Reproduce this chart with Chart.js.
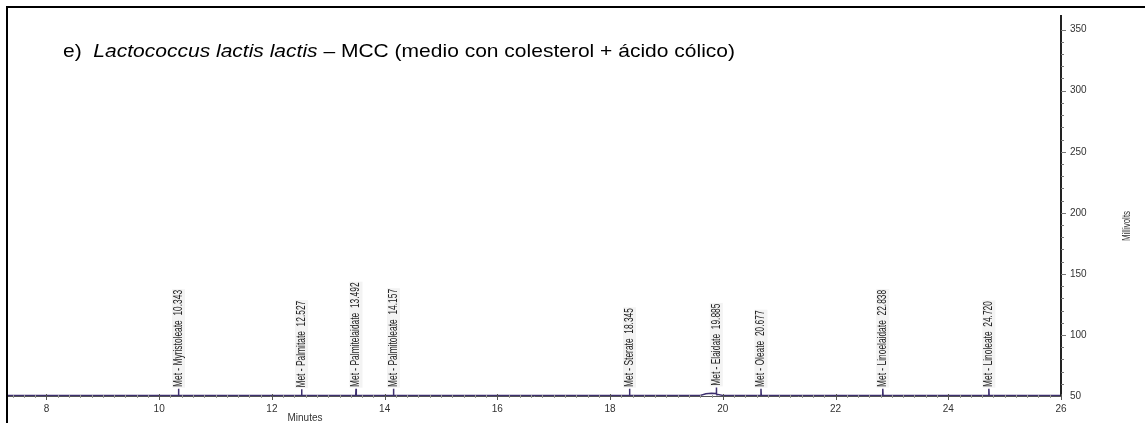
<!DOCTYPE html>
<html>
<head>
<meta charset="utf-8">
<script src="https://cdn.jsdelivr.net/npm/chart.js@4.4.1/dist/chart.umd.min.js"></script>
<style>
  html, body { margin: 0; padding: 0; background: #fff; }
  #wrap { position: relative; width: 1145px; height: 423px; }
</style>
</head>
<body>
<div id="wrap"><canvas id="chrom" width="1145" height="423"></canvas></div>
<script>
// peak names and retention times (minutes)
const peakNames = ['Met - Myristoleate', 'Met - Palmitate', 'Met - Palmitelaidate', 'Met - Palmitoleate',
                   'Met - Sterate', 'Met - Elaidate', 'Met - Oleate', 'Met - Linoelaidate', 'Met - Linoleate'];
const peakTimes = [10.343, 12.527, 13.492, 14.157, 18.345, 19.885, 20.677, 22.838, 24.720];
const peakHeights = [56, 55.5, 56, 56, 56, 57, 56, 56, 56];

// detector trace (minutes, millivolts)
const traceTimes = [7.3, 10.338, 10.343, 10.348, 12.522, 12.527, 12.532, 13.487, 13.492, 13.497,
                    14.152, 14.157, 14.162, 18.340, 18.345, 18.350, 19.60, 19.70, 19.80, 19.87,
                    19.880, 19.885, 19.890, 20.00, 20.672, 20.677, 20.682, 22.833, 22.838, 22.843,
                    24.715, 24.720, 24.725, 26.0];
const traceValues = [50.5, 50.5, 56, 50.5, 50.5, 55.5, 50.5, 50.5, 56, 50.5,
                     50.5, 56, 50.5, 50.5, 56, 50.5, 50.5, 51.8, 52.2, 52.0,
                     51.9, 57, 51.5, 50.5, 50.5, 56, 50.5, 50.5, 56, 50.5,
                     50.5, 56, 50.5, 50.5];

const xTicks = [8, 10, 12, 14, 16, 18, 20, 22, 24, 26];
const yTicks = [50, 100, 150, 200, 250, 300, 350];

const titleParts = [
  { text: 'e)  ', italic: false },
  { text: 'Lactococcus lactis lactis', italic: true },
  { text: ' – MCC (medio con colesterol + ácido cólico)', italic: false }
];

const tracePoints = traceTimes.map((t, i) => ({ x: t, y: traceValues[i] }));

const decorPlugin = {
  id: 'decor',
  afterDraw(chart) {
    const ctx = chart.ctx;
    const xs = chart.scales.x, ys = chart.scales.y;
    const area = chart.chartArea;
    ctx.save();

    // outer frame (top and left)
    ctx.strokeStyle = '#000';
    ctx.lineWidth = 2;
    ctx.beginPath();
    ctx.moveTo(7, 423);
    ctx.lineTo(7, 7);
    ctx.lineTo(1145, 7);
    ctx.stroke();

    // right axis line
    ctx.lineWidth = 2;
    ctx.strokeStyle = '#222';
    ctx.beginPath();
    ctx.moveTo(area.right, area.top);
    ctx.lineTo(area.right, area.bottom);
    ctx.stroke();

    // minor ticks on y axis
    ctx.lineWidth = 1;
    ctx.strokeStyle = '#777';
    for (let v = 60; v < 360; v += 10) {
      const y = Math.round(ys.getPixelForValue(v)) + 0.5;
      const len = v % 50 === 0 ? 5 : 3;
      ctx.beginPath();
      ctx.moveTo(area.right, y);
      ctx.lineTo(area.right + len, y);
      ctx.stroke();
    }
    // minor ticks on x axis
    ctx.strokeStyle = '#999';
    for (let m = 7.4; m < 26; m += 0.2) {
      const x = Math.round(xs.getPixelForValue(m)) + 0.5;
      ctx.beginPath();
      ctx.moveTo(x, area.bottom - 1);
      ctx.lineTo(x, area.bottom + 2);
      ctx.stroke();
    }
    ctx.strokeStyle = '#555';
    xTicks.forEach(t => {
      const x = Math.round(xs.getPixelForValue(t)) + 0.5;
      ctx.beginPath();
      ctx.moveTo(x, area.bottom - 2);
      ctx.lineTo(x, area.bottom + 4);
      ctx.stroke();
    });

    // peak labels (condensed along the text direction)
    ctx.font = '12px "Liberation Sans", Arial, sans-serif';
    ctx.textBaseline = 'middle';
    ctx.textAlign = 'left';
    peakNames.forEach((name, i) => {
      const label = name + '  ' + peakTimes[i].toFixed(3);
      const x = xs.getPixelForValue(peakTimes[i]);
      const y = ys.getPixelForValue(peakHeights[i]) - 1;
      const w = ctx.measureText(label).width;
      ctx.save();
      ctx.translate(x, y);
      ctx.rotate(-Math.PI / 2);
      ctx.scale(0.7, 1);
      ctx.fillStyle = '#f3f3f3';
      ctx.fillRect(0, -6.5, w + 2, 13);
      ctx.fillStyle = '#222';
      ctx.fillText(label, 1, 0);
      ctx.restore();
    });

    // title, stretched to the reference width
    ctx.fillStyle = '#000';
    ctx.textBaseline = 'middle';
    ctx.textAlign = 'left';
    let total = 0;
    titleParts.forEach(p => {
      ctx.font = (p.italic ? 'italic ' : '') + '19px "Liberation Sans", Arial, sans-serif';
      total += ctx.measureText(p.text).width;
    });
    ctx.save();
    ctx.translate(63, 52);
    ctx.scale(672 / total, 1);
    let tx = 0;
    titleParts.forEach(p => {
      ctx.font = (p.italic ? 'italic ' : '') + '19px "Liberation Sans", Arial, sans-serif';
      ctx.fillText(p.text, tx, 0);
      tx += ctx.measureText(p.text).width;
    });
    ctx.restore();

    // axis titles
    ctx.font = '10px "Liberation Sans", Arial, sans-serif';
    ctx.fillStyle = '#333';
    ctx.textAlign = 'center';
    ctx.fillText('Minutes', 305, 418);
    ctx.save();
    ctx.translate(1127, 226);
    ctx.rotate(-Math.PI / 2);
    ctx.scale(0.8, 1);
    ctx.font = '10px "Liberation Sans", Arial, sans-serif';
    ctx.fillText('Millivolts', 0, 0);
    ctx.restore();

    ctx.restore();
  }
};

new Chart(document.getElementById('chrom'), {
  type: 'line',
  data: {
    datasets: [{
      data: tracePoints,
      borderColor: '#3d2f6e',
      borderWidth: 1.5,
      pointRadius: 0,
      tension: 0,
      fill: false
    }]
  },
  options: {
    responsive: false,
    animation: false,
    layout: { padding: { left: 7, top: 7, right: 0, bottom: 0 } },
    plugins: { legend: { display: false }, tooltip: { enabled: false } },
    scales: {
      x: {
        type: 'linear',
        min: 7.3,
        max: 26,
        afterFit(s) { s.height = 27; },
        afterBuildTicks(s) { s.ticks = xTicks.map(v => ({ value: v })); },
        grid: { display: false, drawTicks: false },
        border: { display: true, color: '#555', width: 1 },
        ticks: {
          autoSkip: false,
          maxRotation: 0,
          padding: 7,
          color: '#333',
          font: { family: '"Liberation Sans", Arial, sans-serif', size: 10 }
        }
      },
      y: {
        position: 'right',
        min: 50,
        max: 362,
        afterFit(s) { s.width = 84; },
        afterBuildTicks(s) { s.ticks = yTicks.map(v => ({ value: v })); },
        grid: { display: false, drawTicks: false },
        border: { display: false },
        ticks: {
          padding: 9,
          color: '#333',
          font: { family: '"Liberation Sans", Arial, sans-serif', size: 10 }
        }
      }
    }
  },
  plugins: [decorPlugin]
});
</script>
</body>
</html>
